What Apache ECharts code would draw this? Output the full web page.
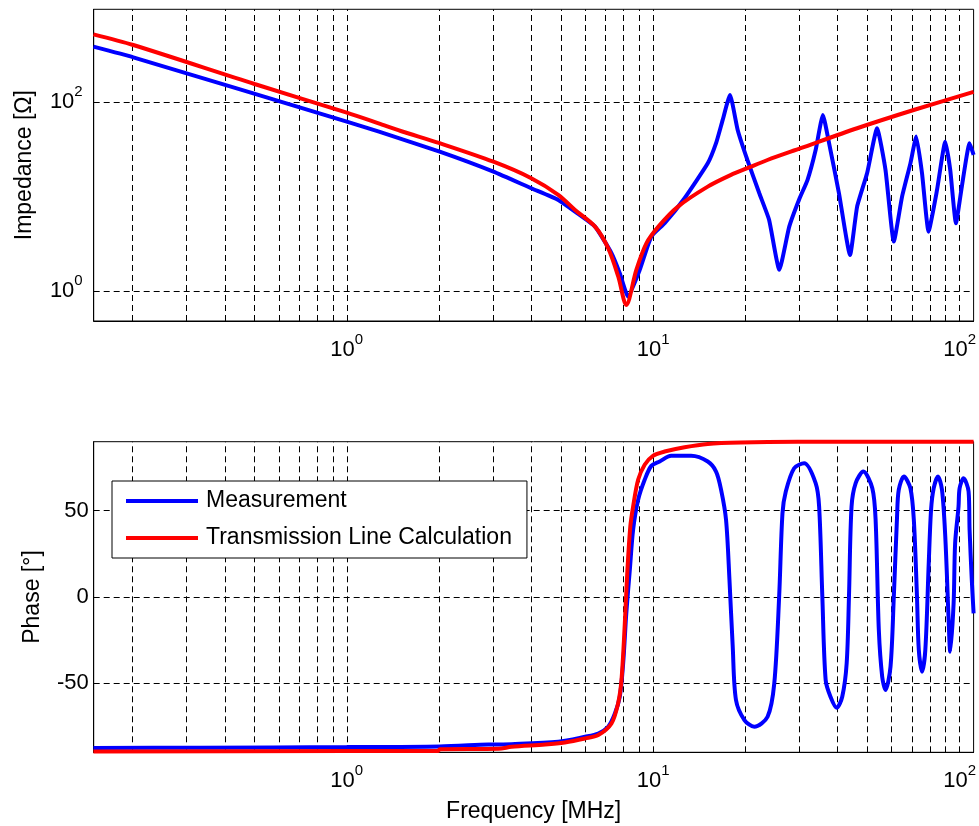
<!DOCTYPE html>
<html><head><meta charset="utf-8">
<script src="https://cdn.jsdelivr.net/npm/echarts@6/dist/echarts.min.js"></script>
<style>html,body{margin:0;padding:0;background:#fff}#c{width:979px;height:826px}</style>
</head><body><div id="c"></div>
<script>
// ---- data ----
const seriesNames = ['Measurement', 'Transmission Line Calculation'];

const freqZMeas = [0.149, 0.201, 1, 1.274, 2.01, 3.01, 4.0, 4.9, 5.56, 6.46, 7.31, 7.78, 8.28, 9.04, 9.86, 10.9, 12.66, 15.07, 16.04, 16.86, 17.81, 18.87, 20.3, 22.2, 23.9, 25.8, 27.8, 29.9, 31.9, 33.9, 35.8, 37.5, 40.4, 43.9, 46.3, 49.9, 53.8, 57.3, 61.0, 64.9, 69.1, 72.2, 75.4, 79.2, 84.4, 89.8, 93.2, 97.3, 101.7, 107.8, 111.1];
const zMeas = [385, 297, 61.9, 48.5, 29.8, 18.3, 12.2, 9.18, 6.9, 4.79, 2.51, 1.54, 0.87, 1.67, 3.76, 5.2, 9.57, 22.4, 36.6, 64.6, 118.6, 50.6, 24.3, 10.8, 5.64, 1.67, 4.79, 9.18, 15.0, 31.0, 72.8, 36.6, 10.8, 2.40, 7.8, 17.6, 52.7, 19.1, 3.33, 9.95, 22.4, 43.0, 17.6, 4.24, 11.7, 38.0, 19.1, 5.2, 12.7, 36.6, 27.5];

const freqZCalc = [0.149, 0.201, 0.5, 1, 1.27, 1.5, 2.01, 3.01, 4.0, 4.9, 5.56, 6.46, 7.13, 7.69, 8.17, 8.81, 9.51, 10.4, 12.05, 15.07, 17.95, 20.3, 23.6, 30.3, 46.3, 70.8, 111.1];
const zCalc = [520, 401, 155, 77.1, 59.4, 49.3, 36.6, 23.3, 15.6, 10.4, 7.19, 4.79, 2.83, 1.42, 0.71, 1.67, 3.2, 4.79, 7.8, 12.7, 16.9, 19.9, 24.3, 32.4, 52.7, 82.2, 128];

const freqPhMeas = [0.149, 0.331, 1, 2.01, 2.9, 3.45, 4.9, 5.99, 6.62, 7.13, 7.5, 7.78, 7.98, 8.17, 8.39, 8.6, 8.93, 9.38, 9.86, 10.5, 11.45, 13.3, 15.07, 16.04, 16.66, 17.29, 17.74, 18.18, 18.63, 19.85, 21.38, 23.62, 24.84, 25.77, 26.42, 27.09, 28.84, 31.1, 33.9, 34.8, 35.65, 36.55, 37.9, 39.7, 41.4, 42.8, 43.55, 44.4, 45.8, 48.5, 51.9, 53.2, 54.5, 55.9, 57.3, 59.5, 61.0, 62.5, 63.3, 65.8, 69.1, 70.9, 72.6, 73.6, 75.4, 77.3, 79.3, 80.7, 82.3, 85.0, 87.6, 89.8, 92.1, 93.2, 95.6, 96.7, 99.2, 100, 103, 107, 107.8, 109.6, 111.1];
const phMeas = [-87.5, -87.3, -87.0, -86.6, -85.5, -85.3, -83.9, -81, -79.1, -75.2, -67.5, -57.8, -38.5, -9.5, 15.7, 38.9, 56.3, 67.9, 76.0, 78.5, 81.8, 81.8, 78.5, 72.7, 62.1, 44.7, 9.9, -28.8, -59.7, -71.3, -75.2, -69.4, -50.1, 0.2, 48.5, 61.1, 74.6, 77.5, 66, 52.4, 0.2, -48.1, -57.8, -64.2, -57.8, -38.5, 0.2, 52.4, 66, 72.7, 63, 44.7, -19.1, -46.2, -53.9, -40.4, 0.2, 46.6, 62.1, 69.8, 63, 44.7, 0.2, -30.7, -43.3, -30.7, 19.5, 50.5, 63, 69.8, 62.1, 35, -13.3, -31.7, -3.7, 31.1, 52.4, 63, 68.8, 61.1, 38.9, 9.9, -9.5];

const freqPhCalc = [0.149, 1, 1.99, 2.01, 3.13, 3.45, 4.44, 5.15, 5.99, 6.62, 7.31, 7.68, 7.88, 8.08, 8.24, 8.42, 8.6, 8.93, 9.38, 9.98, 10.9, 12.66, 15.07, 19.34, 29.6, 111.1];
const phCalc = [-89.5, -89.3, -89.2, -88.2, -88, -86.8, -85.5, -84.3, -82, -80, -73.3, -61.7, -48.1, -15.3, 15.7, 40.8, 52.4, 67.9, 76.6, 81.8, 84.3, 86.8, 88.7, 89.5, 89.9, 90];

// axis ranges / ticks
const freqRange = [0.1493, 111.1];
const zRange = [0.48, 957];
const phRange = [-90, 90];
const zTickLabels = [1, 100];
const phTickLabels = [-50, 0, 50];
const freqGridLines = [0.2,0.3,0.4,0.5,0.6,0.7,0.8,0.9,1,2,3,4,5,6,7,8,9,10,20,30,40,50,60,70,80,90,100];

// ---- chart ----
const FONT = '"Liberation Sans", Arial, Helvetica, sans-serif';
const BLUE = '#0000ff', RED = '#ff0000';
const LW = 4;
const pairs = (xs, ys) => xs.map((x, i) => [x, ys[i]]);

const rich = {
  b: { fontSize: 22, fontFamily: FONT, color: '#000', lineHeight: 36 },
  s: { fontSize: 15, fontFamily: FONT, color: '#000', lineHeight: 15, verticalAlign: 'top' }
};
function powLabel(v, allowed) {
  const e = Math.round(Math.log10(v));
  const p = Math.pow(10, e);
  if (Math.abs(v - p) > 1e-6 * p) return '';
  if (allowed && !allowed.includes(p)) return '';
  return '{b|10}{s|' + e + '}';
}
const gridLineStyle = { color: '#000', width: 1, type: [6, 4] };
function gridMarks(hLines) {
  return {
    silent: true, symbol: ['none', 'none'], animation: false,
    label: { show: false }, emphasis: { disabled: true },
    lineStyle: gridLineStyle,
    data: freqGridLines.map(v => ({ xAxis: v })).concat(hLines.map(v => ({ yAxis: v })))
  };
}
const nameStyle = { fontSize: 23, fontFamily: FONT, color: '#000' };

const grids = [
  { left: 93.7, top: 9.3, width: 883, height: 311.7 },
  { left: 93.7, top: 441.7, width: 883, height: 310.6 }
].map(g => Object.assign(g, { show: true, borderColor: '#000', borderWidth: 1, containLabel: false }));

const option = {
  animation: false,
  backgroundColor: '#fff',
  grid: grids,
  legend: {
    data: seriesNames, orient: 'vertical', left: 112, top: 481,
    itemWidth: 72, itemHeight: 4, itemGap: 11, icon: 'rect',
    padding: [7, 15, 7, 14], borderColor: '#000', borderWidth: 1, backgroundColor: '#fff',
    textStyle: { fontSize: 23, fontFamily: FONT, color: '#000', lineHeight: 26, padding: [0, 0, 0, 3] },
    selectedMode: false, z: 20
  },
  xAxis: [0, 1].map(i => ({
    type: 'log', logBase: 10, gridIndex: i, min: freqRange[0], max: freqRange[1],
    axisLine: { show: true, onZero: false, lineStyle: { color: '#000', width: 1 } },
    axisTick: { show: false }, splitLine: { show: false },
    axisLabel: { formatter: v => powLabel(v), margin: 11, rich: rich, showMinLabel: false, showMaxLabel: false },
    name: i === 1 ? 'Frequency [MHz]' : '', nameLocation: 'middle', nameGap: 48, nameTextStyle: nameStyle
  })),
  yAxis: [
    {
      type: 'log', logBase: 10, gridIndex: 0, min: zRange[0], max: zRange[1],
      axisLine: { show: true, onZero: false, lineStyle: { color: '#000', width: 1 } },
      axisTick: { show: false }, splitLine: { show: false },
      axisLabel: { formatter: v => powLabel(v, zTickLabels), margin: 11, rich: rich, showMinLabel: false, showMaxLabel: false },
      name: 'Impedance [Ω]', nameLocation: 'middle', nameGap: 58, nameTextStyle: nameStyle
    },
    {
      type: 'value', gridIndex: 1, min: phRange[0], max: phRange[1], splitNumber: 4,
      axisLine: { show: true, onZero: false, lineStyle: { color: '#000', width: 1 } },
      axisTick: { show: false }, splitLine: { show: false },
      axisLabel: { formatter: v => phTickLabels.includes(v) ? String(v) : '', margin: 5, fontSize: 22, fontFamily: FONT, color: '#000', showMinLabel: false, showMaxLabel: false },
      name: 'Phase [°]', nameLocation: 'middle', nameGap: 50, nameTextStyle: nameStyle
    }
  ],
  series: [
    {
      name: seriesNames[0], type: 'line', xAxisIndex: 0, yAxisIndex: 0, z: 10,
      data: pairs(freqZMeas, zMeas), showSymbol: false, symbol: 'none', smooth: 0.15,
      lineStyle: { color: BLUE, width: LW }, itemStyle: { color: BLUE },
      markLine: gridMarks(zTickLabels)
    },
    {
      name: seriesNames[1], type: 'line', xAxisIndex: 0, yAxisIndex: 0, z: 11, smooth: 0.3,
      data: pairs(freqZCalc, zCalc), showSymbol: false, symbol: 'none',
      lineStyle: { color: RED, width: LW }, itemStyle: { color: RED }
    },
    {
      name: seriesNames[0], type: 'line', xAxisIndex: 1, yAxisIndex: 1, z: 10, smooth: 0.3,
      data: pairs(freqPhMeas, phMeas), showSymbol: false, symbol: 'none',
      lineStyle: { color: BLUE, width: LW }, itemStyle: { color: BLUE },
      markLine: gridMarks(phTickLabels)
    },
    {
      name: seriesNames[1], type: 'line', xAxisIndex: 1, yAxisIndex: 1, z: 11, clip: false, smooth: 0.3,
      data: pairs(freqPhCalc, phCalc), showSymbol: false, symbol: 'none',
      lineStyle: { color: RED, width: LW }, itemStyle: { color: RED }
    }
  ]
};
const chart = echarts.init(document.getElementById('c'), null, { renderer: 'canvas' });
chart.setOption(option);
</script>
</body></html>
